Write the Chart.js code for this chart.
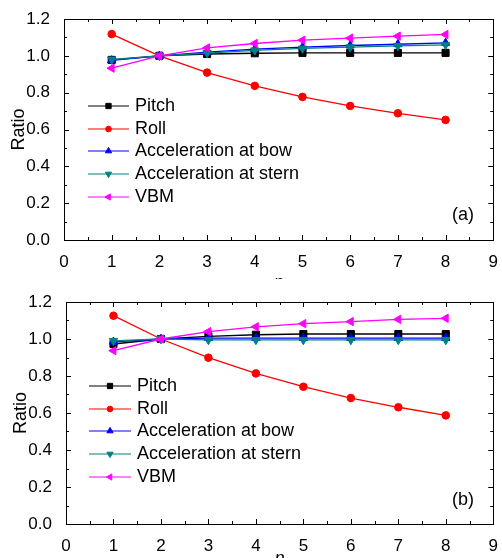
<!DOCTYPE html>
<html>
<head>
<meta charset="utf-8">
<script src="https://cdn.jsdelivr.net/npm/chart.js@4/dist/chart.umd.min.js"></script>
<style>
  body { margin: 0; background: #fff; }
  .box { position: relative; width: 502px; height: 279px; }
  canvas { display: block; }
</style>
</head>
<body>
<div class="box"><canvas id="chartA" width="502" height="279"></canvas></div>
<div class="box"><canvas id="chartB" width="502" height="279"></canvas></div>
<script>
// n values and tick labels
const nValues = [1, 2, 3, 4, 5, 6, 7, 8];
const xTickValues = [0, 1, 2, 3, 4, 5, 6, 7, 8, 9];
const yTickValues = [0.0, 0.2, 0.4, 0.6, 0.8, 1.0, 1.2];
const seriesNames = ["Pitch", "Roll", "Acceleration at bow", "Acceleration at stern", "VBM"];

// panel (a)
const pitchA = [0.978, 1.0, 1.010, 1.014, 1.016, 1.016, 1.016, 1.016];
const rollA  = [1.118, 1.0, 0.909, 0.837, 0.777, 0.728, 0.688, 0.652];
const bowA   = [0.975, 1.0, 1.020, 1.036, 1.047, 1.056, 1.063, 1.070];
const sternA = [0.980, 1.0, 1.015, 1.030, 1.040, 1.047, 1.054, 1.060];
const vbmA   = [0.933, 1.0, 1.043, 1.067, 1.085, 1.096, 1.107, 1.116];

// panel (b)
const pitchB = [0.973, 1.0, 1.014, 1.023, 1.027, 1.027, 1.027, 1.027];
const rollB  = [1.126, 1.0, 0.899, 0.814, 0.742, 0.681, 0.631, 0.587];
const bowB   = [0.985, 1.0, 1.005, 1.005, 1.005, 1.005, 1.005, 1.005];
const sternB = [0.990, 1.0, 0.995, 0.995, 0.995, 0.995, 0.995, 0.995];
const vbmB   = [0.937, 1.0, 1.040, 1.066, 1.083, 1.094, 1.106, 1.112];

const styles = [
    { color: "#000000", pointStyle: "rect", radius: 5, rotation: 0 },
    { color: "#ff0000", pointStyle: "circle", radius: 3.8, rotation: 0 },
    { color: "#0000ff", pointStyle: "triangle", radius: 4.8, rotation: 0 },
    { color: "#008080", pointStyle: "triangle", radius: 4.8, rotation: 180 },
    { color: "#ff00ff", pointStyle: "triangle", radius: 4.8, rotation: 270 },
];

const FONT = "'Liberation Sans', Arial, sans-serif";

function toPoints(values) {
    return values.map((v, i) => ({ x: nValues[i], y: v }));
}

// inward ticks on all four sides plus the frame
const frameTicks = {
    id: "frameTicks",
    beforeDatasetsDraw(chart) {
        const ctx = chart.ctx;
        const area = chart.chartArea;
        const xs = chart.scales.x;
        const ys = chart.scales.y;
        ctx.save();
        ctx.strokeStyle = "#000";
        ctx.lineWidth = 1;
        ctx.strokeRect(Math.round(area.left) + 0.5, Math.round(area.top) + 0.5,
            Math.round(area.right - area.left), Math.round(area.bottom - area.top));
        ctx.beginPath();
        for (let i = 0; i < xTickValues.length; i++) {
            const v = xTickValues[i];
            const px = Math.round(xs.getPixelForValue(v)) + 0.5;
            ctx.moveTo(px, area.bottom); ctx.lineTo(px, area.bottom - 5);
            ctx.moveTo(px, area.top); ctx.lineTo(px, area.top + 5);
            if (i < xTickValues.length - 1) {
                const pm = Math.round(xs.getPixelForValue(v + 0.5)) + 0.5;
                ctx.moveTo(pm, area.bottom); ctx.lineTo(pm, area.bottom - 3);
                ctx.moveTo(pm, area.top); ctx.lineTo(pm, area.top + 3);
            }
        }
        for (let i = 0; i < yTickValues.length; i++) {
            const v = yTickValues[i];
            const py = Math.round(ys.getPixelForValue(v)) + 0.5;
            ctx.moveTo(area.left, py); ctx.lineTo(area.left + 5, py);
            ctx.moveTo(area.right, py); ctx.lineTo(area.right - 5, py);
            if (i < yTickValues.length - 1) {
                const pm = Math.round(ys.getPixelForValue(v + 0.1)) + 0.5;
                ctx.moveTo(area.left, pm); ctx.lineTo(area.left + 3, pm);
                ctx.moveTo(area.right, pm); ctx.lineTo(area.right - 3, pm);
            }
        }
        ctx.stroke();
        ctx.restore();
    }
};

// legend inside the plot and the panel label
const innerLegend = {
    id: "innerLegend",
    afterDraw(chart, args, opts) {
        const ctx = chart.ctx;
        ctx.save();
        ctx.font = "18px " + FONT;
        ctx.textBaseline = "middle";
        ctx.textAlign = "left";
        seriesNames.forEach((name, i) => {
            const st = styles[i];
            const y = opts.rows[i];
            ctx.strokeStyle = st.color;
            ctx.fillStyle = st.color;
            ctx.lineWidth = 1.2;
            ctx.beginPath();
            ctx.moveTo(opts.x1, y);
            ctx.lineTo(opts.x2, y);
            ctx.stroke();
            ctx.lineWidth = 1;
            Chart.helpers.drawPoint(ctx, {
                pointStyle: st.pointStyle,
                rotation: st.rotation,
                radius: st.radius * 0.75,
                borderWidth: 1
            }, (opts.x1 + opts.x2) / 2, y);
            ctx.fillStyle = "#000";
            ctx.fillText(name, opts.textX, y);
        });
        ctx.textAlign = "center";
        ctx.fillText(opts.label, opts.labelX, opts.labelY);
        ctx.restore();
    }
};

function makeChart(canvasId, series, layout) {
    const datasets = series.map((values, i) => ({
        label: seriesNames[i],
        data: toPoints(values),
        borderColor: styles[i].color,
        backgroundColor: styles[i].color,
        borderWidth: 1.3,
        pointStyle: styles[i].pointStyle,
        pointRotation: styles[i].rotation,
        pointRadius: styles[i].radius,
        pointBorderWidth: 1,
        tension: 0,
        order: series.length - i,
    }));

    return new Chart(document.getElementById(canvasId), {
        type: "line",
        data: { datasets: datasets },
        plugins: [frameTicks, innerLegend],
        options: {
            responsive: false,
            animation: false,
            layout: { padding: { left: 0, top: layout.top, right: layout.right, bottom: 0 } },
            plugins: {
                legend: { display: false },
                tooltip: { enabled: false },
                innerLegend: layout.legend,
            },
            scales: {
                x: {
                    type: "linear",
                    min: 0,
                    max: 9,
                    afterBuildTicks: (scale) => { scale.ticks = xTickValues.map((v) => ({ value: v })); },
                    afterFit: (scale) => { scale.height = layout.bottomH; },
                    grid: { display: false },
                    border: { display: false },
                    ticks: { color: "#000", padding: 4, font: { family: FONT, size: 17 } },
                    title: {
                        display: true,
                        text: "n",
                        color: "#000",
                        padding: { top: 0, bottom: layout.nPad },
                        font: { family: FONT, size: 18, style: "italic" }
                    }
                },
                y: {
                    min: 0,
                    max: 1.2,
                    afterBuildTicks: (scale) => { scale.ticks = yTickValues.map((v) => ({ value: v })); },
                    afterFit: (scale) => { scale.width = layout.leftW; },
                    grid: { display: false },
                    border: { display: false },
                    ticks: {
                        color: "#000",
                        padding: 6,
                        font: { family: FONT, size: 17 },
                        callback: (v) => Number(v).toFixed(1)
                    },
                    title: {
                        display: true,
                        text: "Ratio",
                        color: "#000",
                        padding: { top: layout.ratioPad, bottom: 0 },
                        font: { family: FONT, size: 18 }
                    }
                }
            }
        }
    });
}

makeChart("chartA", [pitchA, rollA, bowA, sternA, vbmA], {
    top: 19, right: 6, leftW: 64, bottomH: 39, nPad: -14.5, ratioPad: 8,
    legend: { x1: 88, x2: 129, textX: 135, rows: [106, 129, 151, 174, 197], label: "(a)", labelX: 463, labelY: 215 }
});

makeChart("chartB", [pitchB, rollB, bowB, sternB, vbmB], {
    top: 23, right: 3, leftW: 66, bottomH: 34, nPad: -12, ratioPad: 10,
    legend: { x1: 89, x2: 131, textX: 137, rows: [107, 130, 152, 175, 198], label: "(b)", labelX: 463, labelY: 221 }
});
</script>
</body>
</html>
